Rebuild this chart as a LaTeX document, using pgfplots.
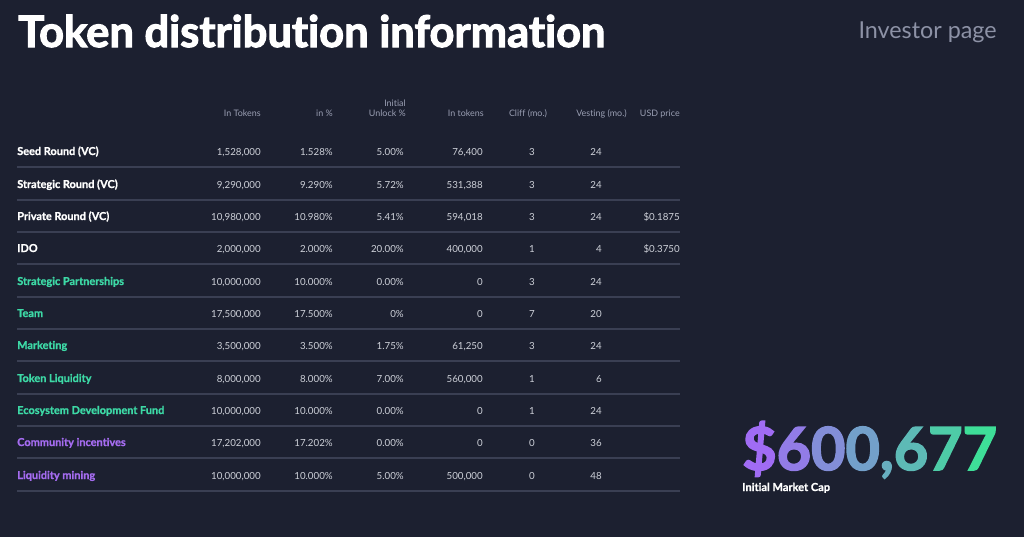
\documentclass[border=0pt]{standalone}
\usepackage{pgfplots}
\pgfplotsset{compat=1.18}
\usepackage{fontspec}
\setmainfont{Lato}[Ligatures=NoCommon]
\newfontfamily\hv{Lato}[Ligatures=NoCommon, FakeBold=1.2]
\newfontfamily\hvv{Lato}[Ligatures=NoCommon, FakeBold=2.5]

\definecolor{bg}{HTML}{1C2030}
\definecolor{sepc}{HTML}{3A3F53}
\definecolor{valc}{HTML}{CDD0D8}
\definecolor{headc}{HTML}{9A9FB3}
\definecolor{greyt}{HTML}{8D92A6}
\definecolor{teal}{HTML}{3DD9A6}
\definecolor{purp}{HTML}{A56CF0}
\definecolor{gA}{HTML}{A06CF4}
\definecolor{gB}{HTML}{3EDE98}

% one table row: baseline y, label colour, label, five values
\newcommand\row[9]{%
  \node[lbl,text=#2,anchor=base west] at (axis cs:17,#1) {#3};
  \node[val,anchor=base east] at (axis cs:261,#1) {#4};
  \node[val,anchor=base east] at (axis cs:333,#1) {#5};
  \node[val,anchor=base east] at (axis cs:404,#1) {#6};
  \node[val,anchor=base east] at (axis cs:483,#1) {#7};
  \node[val,anchor=base] at (axis cs:532,#1) {#8};
  \node[val,anchor=base east] at (axis cs:602,#1) {#9};
}

\begin{document}
\begin{tikzpicture}[
    lbl/.style={inner sep=0pt, font=\fontsize{8.2}{9.5}\selectfont\hv\bfseries},
    val/.style={inner sep=0pt, text=valc, font=\fontsize{7.3}{9}\selectfont},
    hd/.style={inner sep=0pt, text=headc, font=\fontsize{6.7}{7.5}\selectfont},
]
\begin{axis}[
    x=0.75pt, y=0.75pt,
    xmin=0, xmax=1024, ymin=0, ymax=537,
    y dir=reverse,
    hide axis,
    clip=false,
]
\fill[bg] (axis cs:0,0) rectangle (axis cs:1024,537);

% row separators
\pgfplotsinvokeforeach{167,200,232,264,297,329,361,394,426,458,491}{
  \addplot[sepc, line width=0.9pt] coordinates {(17,#1) (680,#1)};
}

% titles
\node[inner sep=0pt, anchor=base west, text=white,
      font=\fontsize{32.6}{35}\selectfont\hvv\bfseries] at (axis cs:18,47) {Token distribution information};
\node[inner sep=0pt, anchor=base east, text=greyt,
      font=\fontsize{17.5}{20}\selectfont] at (axis cs:997,38) {Investor page};

% header
\node[hd,anchor=base east] at (axis cs:261,116) {In Tokens};
\node[hd,anchor=base east] at (axis cs:333,116) {in \%};
\node[hd,anchor=base east] at (axis cs:406,106) {Initial};
\node[hd,anchor=base east] at (axis cs:406,116) {Unlock \%};
\node[hd,anchor=base east] at (axis cs:484,116) {In tokens};
\node[hd,anchor=base] at (axis cs:528,116) {Cliff (mo.)};
\node[hd,anchor=base east] at (axis cs:627,116) {Vesting (mo.)};
\node[hd,anchor=base east] at (axis cs:680,116) {USD price};

% rows
\row{155}{white}{Seed Round (VC)}{1,528,000}{1.528\%}{5.00\%}{76,400}{3}{24}
\row{188}{white}{Strategic Round (VC)}{9,290,000}{9.290\%}{5.72\%}{531,388}{3}{24}
\row{220}{white}{Private Round (VC)}{10,980,000}{10.980\%}{5.41\%}{594,018}{3}{24}
\row{252}{white}{IDO}{2,000,000}{2.000\%}{20.00\%}{400,000}{1}{4}
\row{285}{teal}{Strategic Partnerships}{10,000,000}{10.000\%}{0.00\%}{0}{3}{24}
\row{317}{teal}{Team}{17,500,000}{17.500\%}{0\%}{0}{7}{20}
\row{349}{teal}{Marketing}{3,500,000}{3.500\%}{1.75\%}{61,250}{3}{24}
\row{382}{teal}{Token Liquidity}{8,000,000}{8.000\%}{7.00\%}{560,000}{1}{6}
\row{414}{teal}{Ecosystem Development Fund}{10,000,000}{10.000\%}{0.00\%}{0}{1}{24}
\row{446}{purp}{Community incentives}{17,202,000}{17.202\%}{0.00\%}{0}{0}{36}
\row{479}{purp}{Liquidity mining}{10,000,000}{10.000\%}{5.00\%}{500,000}{0}{48}

\node[val,anchor=base east] at (axis cs:680,220) {\$0.1875};
\node[val,anchor=base east] at (axis cs:680,252) {\$0.3750};

% market cap
\node[inner sep=0pt, anchor=base west,
      font=\fontsize{44.5}{48}\selectfont\hvv\bfseries] at (axis cs:742,470)
  {\textcolor{gA}{\$}\textcolor{gB!14!gA}{6}\textcolor{gB!30!gA}{0}\textcolor{gB!46!gA}{0}\textcolor{gB!58!gA}{,}\textcolor{gB!68!gA}{6}\textcolor{gB!84!gA}{7}\textcolor{gB}{7}};
\node[inner sep=0pt, anchor=base west, text=white,
      font=\fontsize{8.3}{10}\selectfont\hv\bfseries] at (axis cs:742,491) {Initial Market Cap};
\end{axis}
\end{tikzpicture}
\end{document}
